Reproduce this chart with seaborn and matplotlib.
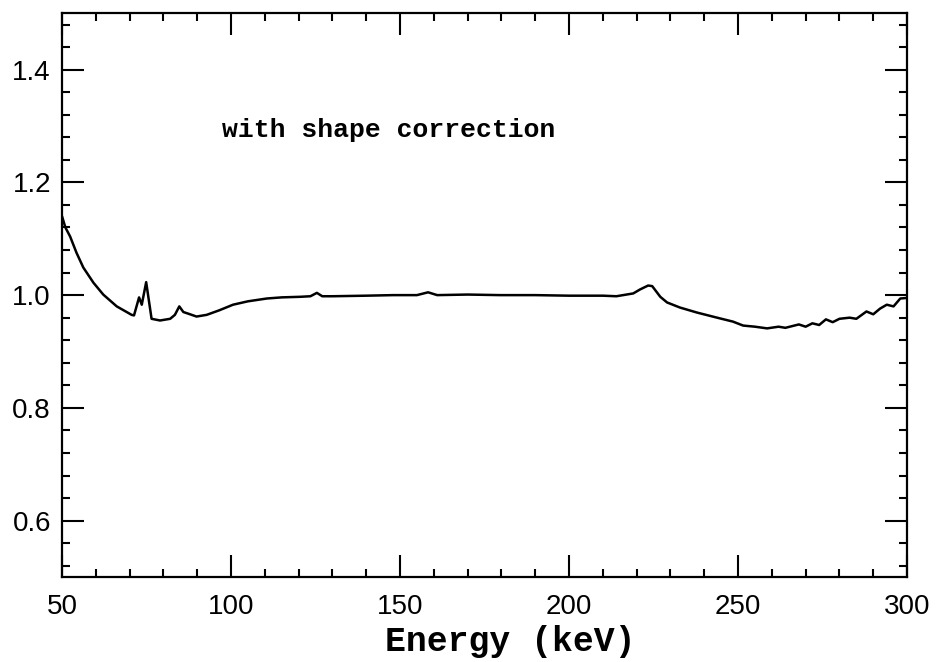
import numpy as np
import matplotlib.pyplot as plt
import seaborn as sns
from matplotlib.ticker import MultipleLocator

# values
energy = [50.0, 51.0, 52.4, 54.3, 56.3, 59.3, 62.2, 66.2, 70.6, 71.3,
          72.8, 73.6, 74.9, 76.5, 79.0, 82.0, 83.4, 84.7, 85.9, 87.4,
          89.8, 92.8, 96.5, 100.6, 105.0, 110.6, 115.0, 120.4, 123.5, 125.4,
          127.0, 130.0, 140.0, 148.0, 155.0, 158.3, 161.0, 170.0, 179.6, 190.0,
          200.0, 210.0, 214.0, 219.0, 221.0, 223.4, 224.6, 227.0, 229.0, 232.8,
          237.9, 243.8, 248.5, 251.5, 255.0, 258.6, 262.0, 264.0, 268.0, 270.0,
          272.0, 274.0, 276.0, 278.0, 280.0, 283.0, 285.0, 288.0, 290.0, 292.0,
          294.0, 296.0, 298.0, 300.0]
ratio = [1.140, 1.120, 1.104, 1.075, 1.049, 1.022, 1.001, 0.980, 0.965, 0.964,
         0.996, 0.983, 1.023, 0.958, 0.955, 0.958, 0.965, 0.980, 0.970, 0.967,
         0.962, 0.965, 0.973, 0.983, 0.989, 0.994, 0.996, 0.997, 0.998, 1.004,
         0.998, 0.998, 0.999, 1.000, 1.000, 1.005, 1.000, 1.001, 1.000, 1.000,
         0.999, 0.999, 0.998, 1.003, 1.010, 1.017, 1.016, 0.997, 0.987, 0.978,
         0.969, 0.960, 0.953, 0.946, 0.944, 0.941, 0.944, 0.942, 0.948, 0.944,
         0.950, 0.947, 0.957, 0.952, 0.958, 0.960, 0.958, 0.971, 0.966, 0.976,
         0.983, 0.980, 0.994, 0.995]

xticks = [50, 100, 150, 200, 250, 300]
yticks = [0.6, 0.8, 1.0, 1.2, 1.4]

sns.set_style("ticks")
plt.rcParams['font.family'] = ['Liberation Sans', 'DejaVu Sans']
plt.rcParams['text.color'] = 'black'
plt.rcParams['axes.labelcolor'] = 'black'
plt.rcParams['xtick.color'] = 'black'
plt.rcParams['ytick.color'] = 'black'

fig = plt.figure(figsize=(9.38, 6.62), dpi=100)
ax = fig.add_axes([0.0661, 0.1284, 0.9009, 0.8516])

sns.lineplot(x=energy, y=ratio, color='black', linewidth=1.8,
             sort=False, estimator=None, ax=ax)

ax.set_xlim(50, 300)
ax.set_ylim(0.5, 1.5)
ax.set_xticks(xticks)
ax.set_yticks(yticks)
ax.set_yticklabels([f"{v:.1f}" for v in yticks])
ax.xaxis.set_minor_locator(MultipleLocator(10))
ax.yaxis.set_minor_locator(MultipleLocator(0.04))

ax.tick_params(which='both', direction='in', top=True, right=True,
               width=1.5, colors='black', labelsize=20)
ax.tick_params(which='major', length=16)
ax.tick_params(which='minor', length=6)
ax.tick_params(axis='x', pad=12)
ax.tick_params(axis='y', pad=8)
for s in ax.spines.values():
    s.set_linewidth(1.6)
    s.set_color('black')

ax.set_xlabel("Energy (keV)", fontsize=25, family=['Liberation Mono', 'DejaVu Sans'],
              fontweight='bold', labelpad=6, color='black')
ax.xaxis.set_label_coords(0.53, -0.085)
ax.text(97.3, 1.293, "with shape correction", fontsize=19,
        family=['Liberation Mono', 'DejaVu Sans'], fontweight='bold',
        va='center', ha='left', color='black')

plt.savefig("out.png", dpi=100)
